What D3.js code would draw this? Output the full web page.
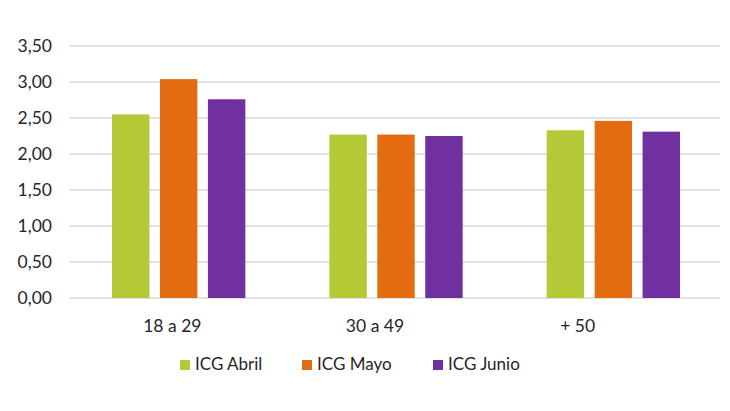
<!DOCTYPE html>
<html lang="es">
<head>
<meta charset="utf-8">
<title>ICG por edad</title>
<script src="https://d3js.org/d3.v7.min.js"></script>
<style>
  html, body { margin: 0; padding: 0; background: #fff; }
  text { font-family: Lato, "Open Sans", sans-serif; fill: #262626; }
</style>
</head>
<body>
<div id="chart"></div>
<script>
// data
var categories = ["18 a 29", "30 a 49", "+ 50"];
var seriesNames = ["ICG Abril", "ICG Mayo", "ICG Junio"];
var abril = [2.55, 2.27, 2.33];
var mayo  = [3.04, 2.27, 2.46];
var junio = [2.76, 2.25, 2.31];
var yTicks = [0, 0.5, 1, 1.5, 2, 2.5, 3, 3.5];
var colors = ["#b5c936", "#e36c10", "#7030a0"];

var values = [abril, mayo, junio];

var width = 730, height = 411;
var margin = {top: 46, right: 8, bottom: 113, left: 70};

var svg = d3.select("#chart")
  .append("svg")
    .attr("width", width)
    .attr("height", height);

// scales
var x0 = d3.scaleBand()
  .domain(categories)
  .range([margin.left, width - margin.right]);

var x1 = d3.scaleBand()
  .domain(seriesNames)
  .range([42, x0.bandwidth() - 42])
  .paddingInner(0.22);

var y = d3.scaleLinear()
  .domain([0, 3.5])
  .range([height - margin.bottom, margin.top]);

// label positions under the groups sit a bit left of the bars in the original
var xLabel = d3.scaleBand()
  .domain(categories)
  .range([71, 679]);

// gridlines
svg.append("g")
  .selectAll("line")
  .data(yTicks)
  .enter()
  .append("line")
    .attr("x1", margin.left)
    .attr("x2", width - margin.right - 2)
    .attr("y1", function(d) { return y(d); })
    .attr("y2", function(d) { return y(d); })
    .attr("stroke", "#d9d9d9")
    .attr("stroke-width", 1.3);

// y labels
var fmt = function(d) { return d3.format(".2f")(d).replace(".", ","); };
svg.append("g")
  .selectAll("text")
  .data(yTicks)
  .enter()
  .append("text")
    .attr("x", 52)
    .attr("y", function(d) { return y(d); })
    .attr("dy", "0.35em")
    .attr("text-anchor", "end")
    .style("font-size", "17.5px")
    .text(fmt);

// bars
var groups = svg.append("g")
  .selectAll("g")
  .data(categories)
  .enter()
  .append("g")
    .attr("transform", function(d) { return "translate(" + x0(d) + ",0)"; });

groups.selectAll("rect")
  .data(function(c, i) {
    return seriesNames.map(function(s, j) { return {series: s, value: values[j][i], idx: j}; });
  })
  .enter()
  .append("rect")
    .attr("x", function(d) { return x1(d.series); })
    .attr("y", function(d) { return y(d.value); })
    .attr("width", x1.bandwidth())
    .attr("height", function(d) { return y(0) - y(d.value); })
    .attr("fill", function(d) { return colors[d.idx]; });

// category labels
svg.append("g")
  .selectAll("text")
  .data(categories)
  .enter()
  .append("text")
    .attr("x", function(d) { return xLabel(d) + xLabel.bandwidth() / 2; })
    .attr("y", 332)
    .attr("text-anchor", "middle")
    .style("font-size", "17.5px")
    .text(function(d) { return d; });

// legend
var legendX = [180, 302, 433];
var legend = svg.append("g")
  .selectAll("g")
  .data(seriesNames)
  .enter()
  .append("g")
    .attr("transform", function(d, i) { return "translate(" + legendX[i] + ",360)"; });

legend.append("rect")
  .attr("width", 10)
  .attr("height", 10)
  .attr("fill", function(d, i) { return colors[i]; });

legend.append("text")
  .attr("x", 15)
  .attr("y", 10)
  .style("font-size", "17px")
  .text(function(d) { return d; });
</script>
</body>
</html>
